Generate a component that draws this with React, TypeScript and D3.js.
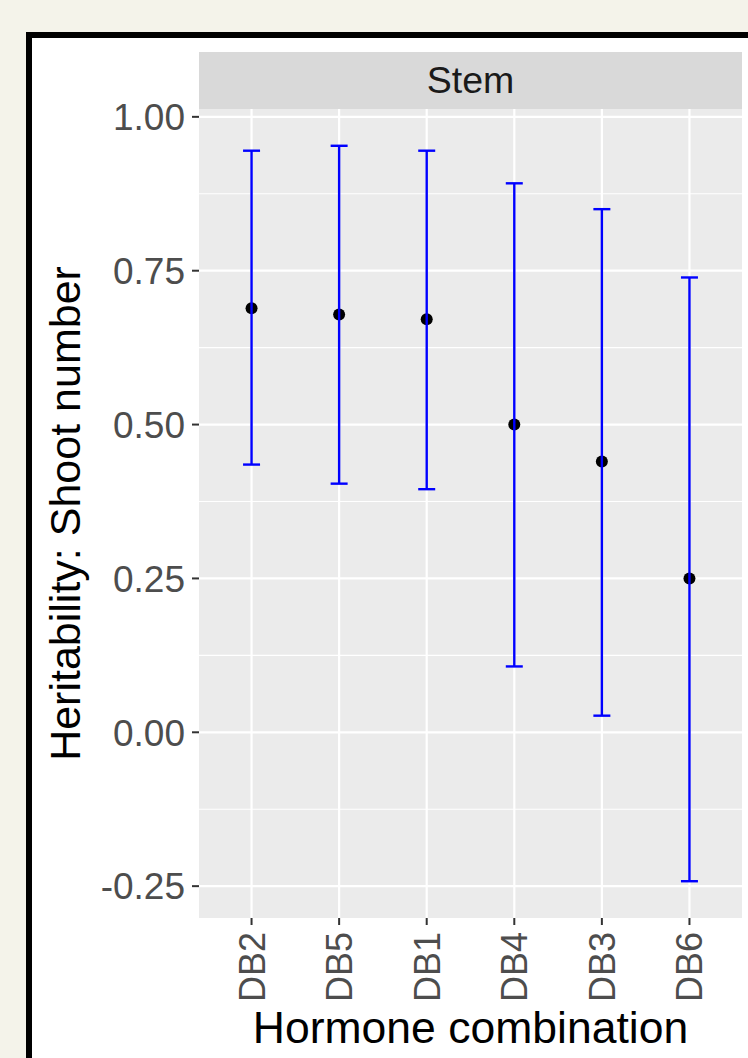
import * as d3 from 'd3';

const categories = ['DB2', 'DB5', 'DB1', 'DB4', 'DB3', 'DB6'];
const estimates = [0.689, 0.679, 0.671, 0.5, 0.44, 0.25];
const lowerCI = [0.435, 0.404, 0.395, 0.107, 0.027, -0.242];
const upperCI = [0.945, 0.953, 0.945, 0.892, 0.85, 0.739];
const yTicks = [-0.25, 0, 0.25, 0.5, 0.75, 1.0];
const yMinor = [-0.125, 0.125, 0.375, 0.625, 0.875];

const W = 748;
const H = 1058;
const FONT = '"Liberation Sans", Arial, sans-serif';

export default function App() {
  // panel area
  const left = 199;
  const right = 742;
  const top = 109;
  const bottom = 918;
  const stripTop = 52;

  const lo = d3.min(lowerCI) as number;
  const hi = d3.max(upperCI) as number;
  const pad = (hi - lo) * 0.05;
  const y = d3.scaleLinear().domain([lo - pad, hi + pad]).range([bottom, top]);

  const step = (right - left) / (categories.length - 1 + 1.2);
  const x = d3.scalePoint<string>().domain(categories).range([left + 0.6 * step, right - 0.6 * step]);

  const rows = categories.map((c, i) => ({ c, est: estimates[i], lo: lowerCI[i], hi: upperCI[i] }));
  const capW = 17;
  const fmt = (t: number) => d3.format('.2f')(t).replace('\u2212', '-');

  return (
    <svg width={W} height={H} style={{ position: 'absolute', left: 0, top: 0, display: 'block' }}>
      <rect x={0} y={0} width={W} height={H} fill="#f4f3ea" />
      <rect x={29} y={35} width={W + 20} height={H + 20} fill="#ffffff" stroke="#000000" strokeWidth={6} />

      {/* strip */}
      <rect x={left} y={stripTop} width={right - left} height={top - stripTop} fill="#d9d9d9" />
      <text x={(left + right) / 2} y={93} textAnchor="middle" fontFamily={FONT} fontSize={37.5} fill="#1a1a1a">
        Stem
      </text>

      {/* panel */}
      <rect x={left} y={top} width={right - left} height={bottom - top} fill="#ebebeb" />
      {yMinor.map((t) => (
        <line key={'m' + t} x1={left} x2={right} y1={y(t)} y2={y(t)} stroke="#ffffff" strokeWidth={1.1} />
      ))}
      {yTicks.map((t) => (
        <line key={'g' + t} x1={left} x2={right} y1={y(t)} y2={y(t)} stroke="#ffffff" strokeWidth={2.2} />
      ))}
      {categories.map((c) => (
        <line key={'v' + c} x1={x(c)} x2={x(c)} y1={top} y2={bottom} stroke="#ffffff" strokeWidth={2.2} />
      ))}

      {/* points and error bars */}
      {rows.map((d) => {
        const cx = x(d.c) as number;
        return (
          <g key={d.c}>
            <circle cx={cx} cy={y(d.est)} r={6} fill="#000000" />
            <line x1={cx} x2={cx} y1={y(d.lo)} y2={y(d.hi)} stroke="#0000ff" strokeWidth={2.4} />
            <line x1={cx - capW / 2} x2={cx + capW / 2} y1={y(d.hi)} y2={y(d.hi)} stroke="#0000ff" strokeWidth={2.4} />
            <line x1={cx - capW / 2} x2={cx + capW / 2} y1={y(d.lo)} y2={y(d.lo)} stroke="#0000ff" strokeWidth={2.4} />
          </g>
        );
      })}

      {/* y axis */}
      {yTicks.map((t) => (
        <g key={'yt' + t}>
          <line x1={left - 7} x2={left} y1={y(t)} y2={y(t)} stroke="#333333" strokeWidth={2} />
          <text
            x={left - 14}
            y={y(t)}
            dy="0.36em"
            textAnchor="end"
            fontFamily={FONT}
            fontSize={37}
            fill="#4d4d4d"
          >
            {fmt(t)}
          </text>
        </g>
      ))}

      {/* x axis */}
      {categories.map((c) => {
        const cx = x(c) as number;
        return (
          <g key={'xt' + c}>
            <line x1={cx} x2={cx} y1={bottom} y2={bottom + 7} stroke="#333333" strokeWidth={2} />
            <text
              transform={`translate(${cx + 13},${bottom + 14}) rotate(-90)`}
              textAnchor="end"
              fontFamily={FONT}
              fontSize={36}
              fill="#4d4d4d"
            >
              {c}
            </text>
          </g>
        );
      })}

      {/* titles */}
      <text x={(left + right) / 2} y={1043} textAnchor="middle" fontFamily={FONT} fontSize={44.5} fill="#000000">
        Hormone combination
      </text>
      <text
        transform={`translate(80,${(top + bottom) / 2}) rotate(-90)`}
        textAnchor="middle"
        fontFamily={FONT}
        fontSize={43}
        fill="#000000"
      >
        Heritability: Shoot number
      </text>
    </svg>
  );
}
